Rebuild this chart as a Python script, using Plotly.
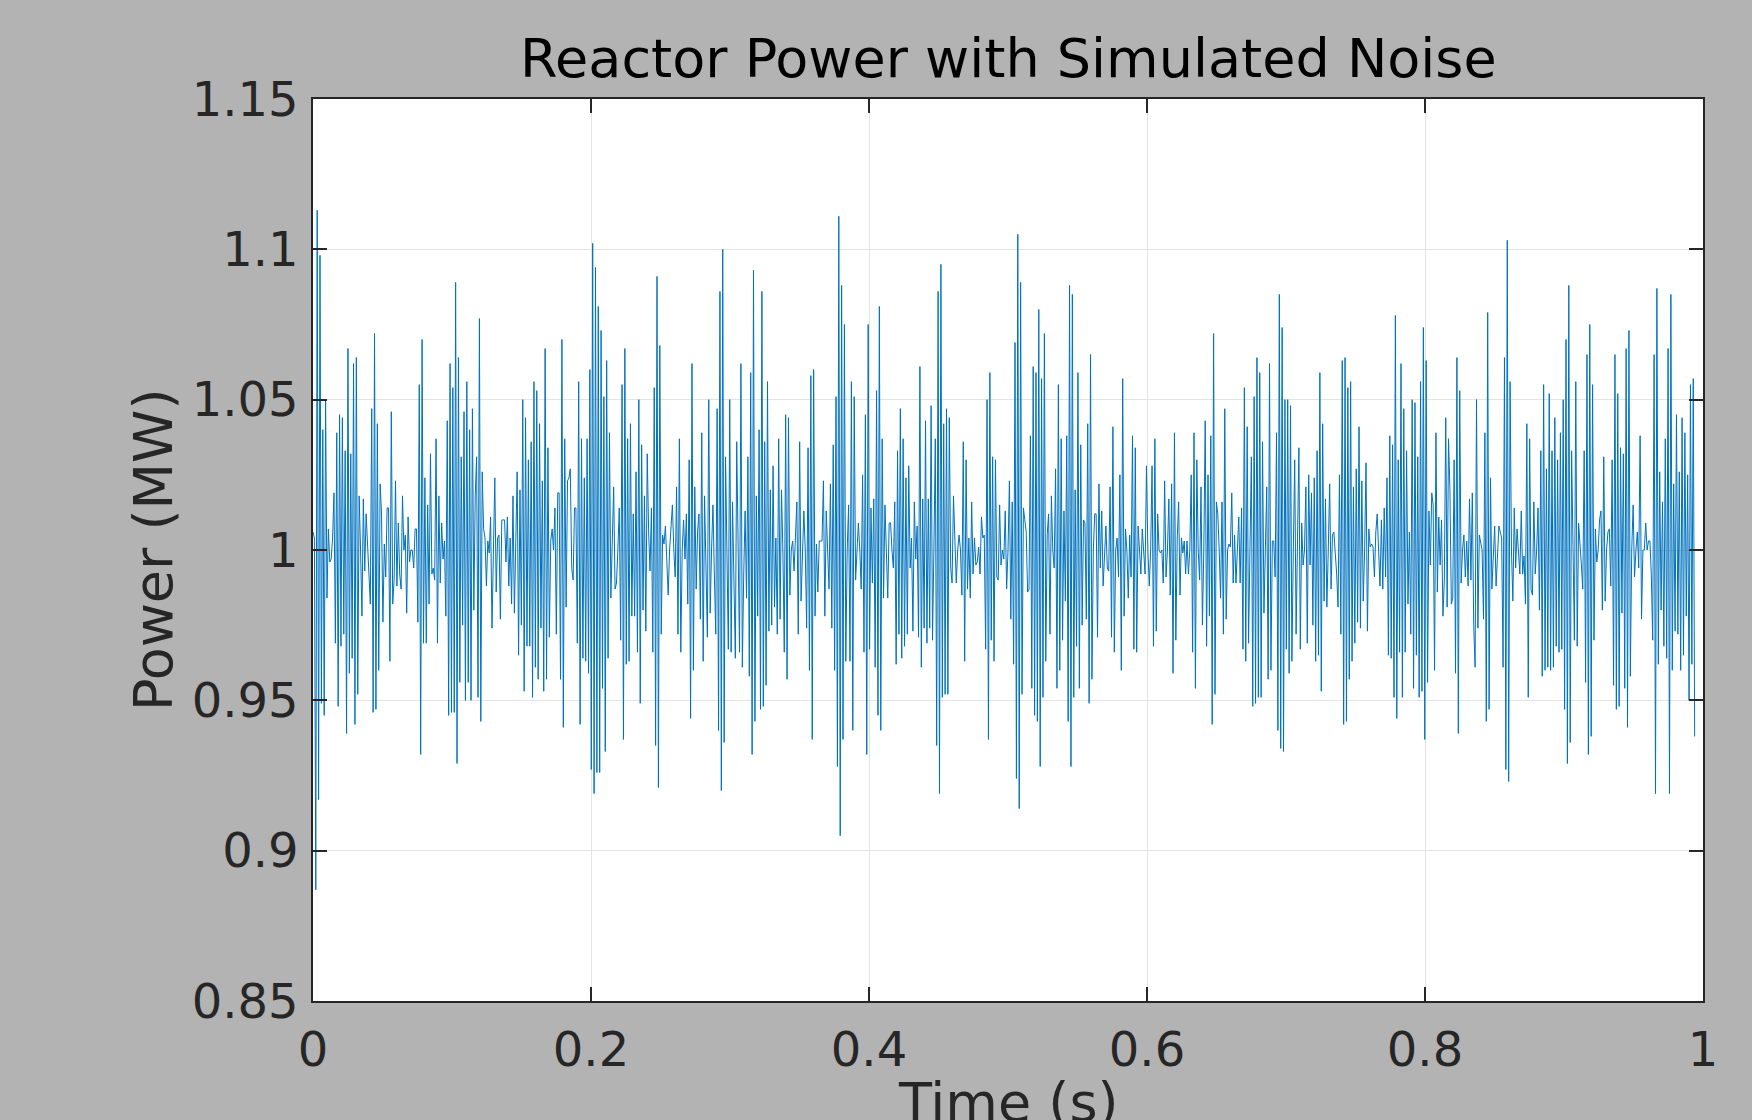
import numpy as np
import plotly.graph_objects as go

power_seg1 = [
1.006, 1.004, 0.887, 1.113, 0.917, 1.098, 0.949, 1.040, 0.945, 1.050,
0.984, 1.007, 0.996, 0.997, 1.004, 1.019, 0.969, 1.039, 0.948, 1.045,
0.968, 1.044, 0.972, 1.033, 0.939, 1.067, 0.959, 1.032, 0.964, 1.062,
0.942, 1.064, 0.952, 1.018, 1.000, 0.978, 1.017, 0.993, 1.012, 1.000,
0.990, 0.982, 1.047, 0.946, 1.072, 0.947, 1.042, 0.960, 1.022, 1.012,
0.976, 1.002, 0.991, 1.014, 1.014, 0.963, 1.046, 0.982, 0.990, 1.023,
0.988, 1.009, 0.992, 0.987, 1.018, 1.000, 1.005, 0.979, 1.011, 0.996,
1.000, 1.000, 0.994, 1.007, 1.007, 0.976, 1.055, 0.932, 1.070, 0.969,
1.024, 0.969, 1.015, 0.982, 1.032, 0.992, 0.994, 0.990, 1.037, 0.969,
1.018, 0.989, 1.009, 0.997, 1.003, 0.978, 1.043, 0.945, 1.062, 0.946,
1.054, 0.946, 1.089, 0.929, 1.064, 0.956, 1.031, 0.975, 1.046, 0.950,
1.056, 0.956, 1.040, 0.950, 1.047, 0.980, 1.018, 1.031, 0.951, 1.077,
0.943, 1.026, 1.007, 1.004, 0.988, 1.003, 0.999, 1.011, 0.974, 1.006,
1.024, 0.986, 1.004, 1.005, 0.977, 1.010, 1.010, 1.010, 0.996, 1.011,
0.988, 1.004, 0.982, 1.018, 0.979, 1.001, 1.026, 0.965, 1.020, 0.975,
1.050, 0.953, 1.044, 0.968, 1.030, 0.968, 1.036, 0.951, 1.056, 0.961,
1.053, 0.957, 1.042, 0.974, 1.023, 0.953, 1.067, 0.957, 1.034, 0.971,
1.003, 1.007, 1.000, 1.014, 0.972, 1.019, 1.019, 0.957, 1.070, 0.941,
1.037, 0.981, 1.023, 1.024, 1.027, 0.994, 0.990, 1.014, 1.014, 0.969,
1.056, 0.942, 1.037, 0.964, 1.024, 0.963, 1.037, 0.959, 1.060, 0.927,
]
power_seg2 = [
1.102, 0.919, 1.094, 0.926, 1.081, 0.926, 1.073, 0.954, 1.051, 0.933,
1.063, 0.964, 1.039, 0.984, 1.003, 1.021, 0.987, 0.989, 1.000, 1.014,
0.970, 1.055, 0.937, 1.067, 0.962, 1.037, 0.963, 1.042, 0.978, 1.012,
0.978, 1.026, 0.966, 1.050, 0.949, 1.035, 0.980, 1.018, 0.973, 1.032,
1.006, 0.993, 1.014, 0.966, 1.054, 0.935, 1.091, 0.921, 1.068, 0.972,
1.005, 1.002, 1.008, 0.997, 0.985, 1.000, 1.009, 1.015, 1.000, 0.991,
1.021, 0.972, 1.037, 0.966, 1.000, 1.010, 0.997, 1.012, 0.982, 1.030,
0.944, 1.062, 0.960, 1.021, 0.987, 1.006, 1.012, 0.977, 1.039, 0.963,
1.018, 0.997, 0.971, 1.050, 0.979, 1.000, 1.015, 0.992, 0.972, 1.047,
0.940, 1.086, 0.920, 1.100, 0.936, 1.031, 1.000, 0.967, 1.050, 0.966,
1.016, 0.989, 0.964, 1.036, 1.000, 0.966, 1.062, 0.961, 0.992, 1.013,
0.984, 1.031,
]
power_seg3 = [
0.958, 1.059, 0.932, 1.093, 0.943, 1.018, 0.978, 1.040, 0.947, 1.086,
0.948, 1.036, 0.955, 1.056, 0.973, 1.020, 0.975, 1.028, 0.981, 1.004,
0.972, 1.037, 0.977, 1.020, 1.000, 0.966, 1.045, 0.957, 1.044, 0.985,
1.000, 1.003, 0.993, 1.008, 1.016, 0.972, 1.036, 0.983, 1.000, 1.013,
1.000, 0.974, 1.034, 0.960, 1.058, 0.937, 1.060, 0.978, 1.002, 0.986,
1.003, 1.003, 1.003, 1.023, 0.978, 1.013, 1.000, 0.987, 1.022, 0.974,
1.035, 0.960, 1.051, 0.928, 1.111, 0.905, 1.088, 0.937, 1.075, 0.963,
1.000, 1.015, 0.963, 1.056, 0.940, 1.051, 0.990, 1.000, 1.009, 1.000,
0.987, 1.025, 0.966, 1.045, 0.932, 1.075, 0.967, 1.014, 0.989, 1.017,
0.961, 1.053, 0.945, 1.081, 0.940, 1.037, 0.984, 1.015, 1.000, 0.984,
1.009, 1.009, 1.000, 0.994, 1.016, 0.962, 1.033, 0.972, 1.047, 0.964,
1.037,
]
power_seg4 = [
0.968, 1.024, 0.972, 1.028, 0.994, 1.004, 0.973, 1.016, 0.997, 1.008,
0.971, 1.061, 0.961, 1.017, 0.974, 1.043, 0.969, 1.017, 0.974, 1.048,
0.970, 1.000, 1.037, 0.935, 1.086, 0.919, 1.095, 0.951, 1.042, 0.952,
1.047, 0.952, 1.044, 0.994, 0.989, 1.018, 1.000, 0.989, 1.000, 1.005,
1.000, 0.985, 1.036, 0.963, 1.030, 0.987, 1.004, 0.984, 1.016, 0.992,
1.004, 0.995, 0.996, 1.001, 0.992, 1.011, 1.004, 1.005, 0.967, 1.050,
0.937, 1.059, 0.970, 1.031, 0.963, 1.030, 0.991, 0.990, 1.015, 0.995,
1.000, 0.997, 1.013, 0.987, 1.000, 1.023, 0.977, 1.016, 0.962, 1.069,
0.924, 1.105, 0.914, 1.089, 0.952, 1.014, 1.010, 1.006, 0.986, 0.987,
1.038, 0.954, 1.061, 0.945, 1.059, 0.943, 1.080, 0.928, 1.057, 0.951,
1.072, 0.963, 1.005, 1.012, 0.972, 1.018, 1.000, 0.994, 1.027, 0.954,
1.055, 0.960,
]
power_seg5 = [
1.037, 0.970, 1.013, 0.983, 1.038, 0.943, 1.088, 0.928, 1.085, 0.951,
1.020, 0.968, 1.059, 0.954, 1.035, 0.975, 1.010, 1.009, 0.977, 1.042,
0.949, 1.065, 0.957, 1.000, 1.012, 1.012, 0.971, 1.022, 0.994, 1.013,
0.988, 1.000, 1.008, 0.994, 0.993, 1.021, 0.971, 1.041, 0.966, 1.000,
1.004, 0.991, 1.025, 0.960, 1.057, 0.978, 1.007, 1.000, 0.984, 1.005,
0.991, 1.038, 0.967, 1.034, 0.966, 1.008, 1.000, 0.992, 1.007, 1.000,
0.992, 1.028, 1.000, 0.988, 1.000, 1.028, 0.968, 1.037, 0.973, 1.012,
1.000, 0.999, 1.000, 0.989, 1.023, 0.991, 1.000, 1.017, 0.985, 1.022,
0.959, 1.039, 0.970, 1.004, 1.016, 0.985, 1.004, 0.999, 1.003, 0.992,
1.003, 0.992, 1.000, 1.025, 0.966, 1.039, 0.954, 1.030, 1.000, 0.990,
1.021, 0.975, 1.000, 1.043, 0.968, 1.025, 0.978, 1.038, 0.942, 1.072,
0.952,
]
power_seg6 = [
1.016, 1.012, 1.000, 0.984, 1.016, 0.972, 1.047, 0.977, 1.000, 1.002,
1.001, 1.019, 0.989, 1.005, 0.989, 1.000, 1.011, 0.989, 1.014, 0.967,
1.054, 0.963, 1.041, 0.969, 1.000, 1.031, 0.948, 1.051, 0.949, 1.064,
0.951, 1.059, 0.951, 1.036, 0.979, 1.000, 1.021, 0.957, 1.062, 0.960,
1.003, 1.003, 0.991, 1.039, 0.940, 1.085, 0.934, 1.074, 0.933, 1.050,
0.967, 1.050, 0.959, 1.048, 0.963, 1.000, 1.030, 0.972, 1.000, 1.034,
0.967, 1.009, 0.995, 1.000, 1.021, 0.969, 1.025, 0.995, 1.019, 0.975,
1.024, 0.963, 1.033, 0.965, 1.059, 0.953, 1.042, 0.983, 1.017, 0.981,
1.000, 1.022, 0.987, 1.005, 1.006, 1.000, 0.992, 0.981, 1.025, 0.972,
1.063, 0.942, 1.064, 0.943, 1.054, 0.957, 1.056, 0.963, 1.021, 0.969,
1.027, 0.976, 1.041, 0.974, 1.023, 0.983, 1.000, 1.029, 0.973, 1.007,
1.001, 1.002,
]
power_seg7 = [
1.001, 0.991, 1.006, 1.012, 1.000, 0.988, 1.010, 0.987, 1.014, 0.991,
1.024, 0.965, 1.038, 0.964, 1.035, 0.951, 1.078, 0.944, 1.030, 0.966,
1.062, 0.951, 1.047, 0.966, 1.033, 0.982, 1.006, 0.972, 1.050, 0.954,
1.049, 0.965, 1.031, 0.951, 1.056, 0.953, 1.074, 0.937, 1.063, 0.956,
1.013, 0.995, 1.019, 1.015, 0.960, 1.039, 0.986, 1.011, 0.995, 1.010,
0.978, 0.990, 1.044, 0.981, 1.037, 1.020, 0.982, 0.984, 1.030, 0.959,
1.064, 0.939, 1.053, 0.989, 1.000, 1.005, 0.991, 1.003, 0.988, 1.017,
0.990, 1.019, 0.975, 0.961, 1.050, 0.974, 1.005, 1.003, 1.000, 0.977,
1.039, 0.943, 1.079, 0.947, 1.024, 0.987, 1.000, 1.008, 0.988, 1.000,
1.008, 1.006, 1.004, 0.961, 1.064, 0.927, 1.103, 0.923, 1.056, 1.000,
0.983, 1.014, 0.994, 1.007, 1.000, 0.992, 1.013, 0.992,
]
power_seg8 = [
0.998, 0.982, 1.042, 0.951, 1.037, 0.987, 0.985, 1.016, 0.992, 1.000,
1.014, 0.980, 1.033, 0.958, 1.055, 0.960, 1.027, 0.961, 1.052, 0.960,
1.033, 0.961, 1.044, 0.968, 1.030, 0.966, 1.039, 0.967, 1.050, 0.947,
1.070, 0.929, 1.088, 0.936, 1.033, 1.000, 0.970, 1.056, 0.968, 1.009,
1.000, 0.995, 0.987, 1.033, 0.956, 1.065, 0.932, 1.075, 0.938, 1.055,
0.970, 1.007, 0.996, 1.000, 1.010, 1.013, 0.980, 1.031, 0.983, 1.000,
1.006, 1.007, 0.988, 1.030, 0.955, 1.065, 0.947, 1.052, 0.948, 1.034,
0.979, 1.032, 0.954, 1.067, 0.941, 1.073, 0.958, 1.000, 1.015, 0.991,
1.000, 1.006, 0.994, 1.038, 0.977, 1.000, 1.000, 1.009, 1.000, 1.003,
1.003, 0.992, 0.970, 1.065, 0.919, 1.087, 0.962, 1.026, 0.980, 1.016,
0.968, 1.037, 0.964, 1.067, 0.919, 1.085, 0.960, 1.022, 0.973, 1.045,
0.972, 1.026, 0.960, 1.044, 0.965, 1.039, 0.978, 1.025, 0.950, 1.055,
0.962, 1.057, 0.938,
]

x_tick_vals = [0, 0.2, 0.4, 0.6, 0.8, 1.0]
x_tick_text = ["0", "0.2", "0.4", "0.6", "0.8", "1"]
y_tick_vals = [0.85, 0.9, 0.95, 1.0, 1.05, 1.1, 1.15]
y_tick_text = ["0.85", "0.9", "0.95", "1", "1.05", "1.1", "1.15"]
t_end = 0.994  # time of the last sample (s)

power = (power_seg1 + power_seg2 + power_seg3 + power_seg4 +
         power_seg5 + power_seg6 + power_seg7 + power_seg8)
t = np.linspace(0.0, t_end, len(power))

FONT = "DejaVu Sans"
AX = "#262626"

fig = go.Figure()
fig.add_trace(go.Scatter(x=t, y=power, mode="lines",
                         line=dict(color="#0072BD", width=1),
                         hoverinfo="skip", showlegend=False))

axis_common = dict(
    showline=True, linecolor=AX, linewidth=1.5, mirror="ticks",
    ticks="inside", ticklen=14, tickwidth=1.5, tickcolor=AX,
    showgrid=True, gridcolor="#e3e3e3", gridwidth=1, zeroline=False,
    tickfont=dict(family=FONT, size=48, color=AX),
)
fig.update_xaxes(range=[0, 1], tickvals=x_tick_vals, ticktext=x_tick_text,
                 ticklabelstandoff=6, **axis_common)
fig.update_yaxes(range=[0.85, 1.15], tickvals=y_tick_vals, ticktext=y_tick_text,
                 ticklabelstandoff=3, **axis_common)

fig.update_layout(
    width=1752, height=1120,
    paper_bgcolor="#b3b3b3", plot_bgcolor="white",
    margin=dict(l=313, r=49, t=99, b=119, autoexpand=False),
    annotations=[
        dict(text="Reactor Power with Simulated Noise", xref="paper", yref="paper",
             x=0.5, y=1, xanchor="center", yanchor="middle", yshift=41,
             showarrow=False, font=dict(family=FONT, size=54, color="#000000")),
        dict(text="Power (MW)", xref="paper", yref="paper", x=0, y=0.5,
             xanchor="center", yanchor="middle", xshift=-160, textangle=-90,
             showarrow=False, font=dict(family=FONT, size=54, color=AX)),
        dict(text="Time (s)", xref="paper", yref="paper", x=0.5, y=0,
             xanchor="center", yanchor="middle", yshift=-101,
             showarrow=False, font=dict(family=FONT, size=54, color=AX)),
    ],
)

fig.write_html("out.html",
               config={"displayModeBar": False},
               post_script="document.body.style.margin='0';"
                           "document.body.style.padding='0';"
                           "document.body.style.overflow='hidden';")
